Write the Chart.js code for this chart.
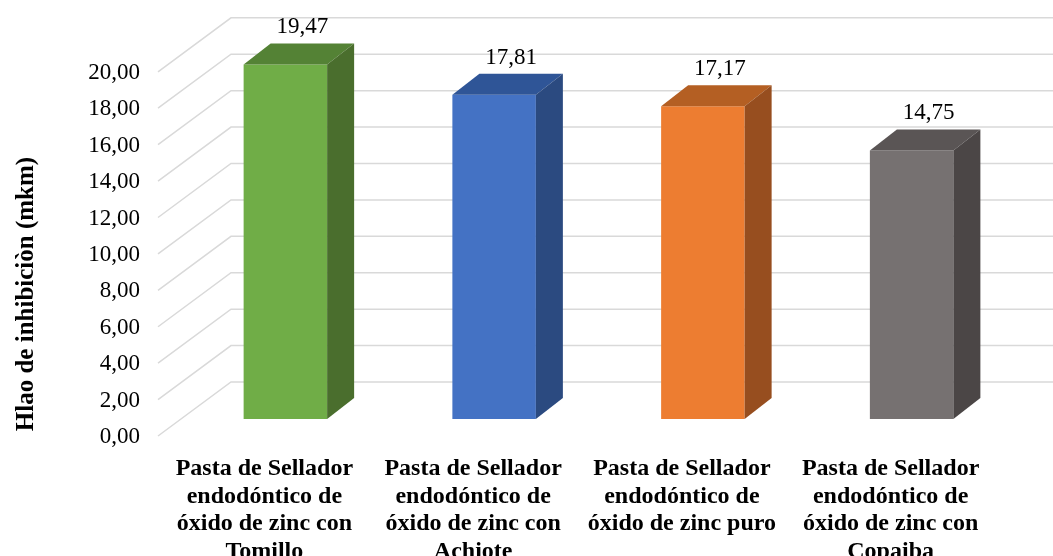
<!DOCTYPE html>
<html>
<head>
<meta charset="utf-8">
<script src="https://cdn.jsdelivr.net/npm/chart.js@4"></script>
<style>
  html, body { margin: 0; padding: 0; background: #fff; }
  #wrap { width: 1053px; height: 556px; }
</style>
</head>
<body>
<div id="wrap"><canvas id="chart"></canvas></div>
<script>
// data -------------------------------------------------------------
const labels = [
  ['Pasta de Sellador', 'endodóntico de', 'óxido de zinc con', 'Tomillo'],
  ['Pasta de Sellador', 'endodóntico de', 'óxido de zinc con', 'Achiote'],
  ['Pasta de Sellador', 'endodóntico de', 'óxido de zinc puro'],
  ['Pasta de Sellador', 'endodóntico de', 'óxido de zinc con', 'Copaiba']
];
const values = [19.47, 17.81, 17.17, 14.75];
const yTitle = 'Hlao de inhibiciòn (mkm)';

// colours: front, top, side
const frontColors = ['#70ad47', '#4472c4', '#ed7d31', '#767171'];
const topColors = ['#548235', '#2f5597', '#b45f23', '#5a5555'];
const sideColors = ['#4a6e2d', '#2b4a80', '#974e1f', '#4b4646'];

// 3d offsets (pixels) relative to bar front plane
const depth = [27, -21];
const wall = [50, -37];
const floorFront = [-23, 17];

const serif = '"Liberation Serif", "Times New Roman", serif';

const fmt = v => v.toFixed(2).replace('.', ',');

const bar3d = {
  id: 'bar3d',
  beforeDatasetsDraw(chart) {
    const { ctx, chartArea } = chart;
    const y = chart.scales.y;
    ctx.save();
    ctx.strokeStyle = '#d9d9d9';
    ctx.lineWidth = 1.5;
    y.ticks.forEach(t => {
      const py = y.getPixelForValue(t.value);
      ctx.beginPath();
      ctx.moveTo(chartArea.left + floorFront[0], py + floorFront[1]);
      ctx.lineTo(chartArea.left + wall[0], py + wall[1]);
      ctx.lineTo(chart.width, py + wall[1]);
      ctx.stroke();
    });
    ctx.restore();
  },
  afterDatasetsDraw(chart) {
    const { ctx } = chart;
    const meta = chart.getDatasetMeta(0);
    ctx.save();
    meta.data.forEach((bar, i) => {
      const { x, y, base, width } = bar.getProps(['x', 'y', 'base', 'width'], true);
      const l = x - width / 2, r = x + width / 2;
      // top face
      ctx.fillStyle = topColors[i];
      ctx.beginPath();
      ctx.moveTo(l, y);
      ctx.lineTo(l + depth[0], y + depth[1]);
      ctx.lineTo(r + depth[0], y + depth[1]);
      ctx.lineTo(r, y);
      ctx.closePath();
      ctx.fill();
      // side face
      ctx.fillStyle = sideColors[i];
      ctx.beginPath();
      ctx.moveTo(r, y);
      ctx.lineTo(r + depth[0], y + depth[1]);
      ctx.lineTo(r + depth[0], base + depth[1]);
      ctx.lineTo(r, base);
      ctx.closePath();
      ctx.fill();
      // value label
      ctx.fillStyle = '#000';
      ctx.font = '23px ' + serif;
      ctx.textAlign = 'center';
      ctx.textBaseline = 'middle';
      ctx.fillText(fmt(values[i]), x + 17, y - 37);
    });
    // y axis title
    ctx.translate(27, 294);
    ctx.rotate(-Math.PI / 2);
    ctx.font = 'bold 25px ' + serif;
    ctx.textAlign = 'center';
    ctx.textBaseline = 'middle';
    ctx.fillStyle = '#000';
    ctx.fillText(yTitle, 0, 0);
    ctx.restore();
  }
};

const ctx = document.getElementById('chart').getContext('2d');
const config = {
  type: 'bar',
  data: {
    labels: labels,
    datasets: [{
      data: values,
      backgroundColor: frontColors,
      borderWidth: 0,
      barPercentage: 0.4,
      categoryPercentage: 1
    }]
  },
  options: {
    responsive: true,
    maintainAspectRatio: false,
    animation: false,
    layout: { padding: { top: 53, right: 37, left: 0, bottom: 0 } },
    plugins: { legend: { display: false }, tooltip: { enabled: false } },
    scales: {
      x: {
        grid: { display: false, drawTicks: false },
        border: { display: false },
        ticks: {
          color: '#000',
          font: { family: serif, size: 24, weight: 'bold', lineHeight: 1.15 },
          padding: 36,
          labelOffset: -21,
          maxRotation: 0,
          autoSkip: false
        },
        afterFit(scale) { scale.height = 137; }
      },
      y: {
        min: 0,
        max: 20,
        grid: { display: false, drawTicks: false },
        border: { display: false },
        ticks: {
          stepSize: 2,
          color: '#000',
          font: { family: serif, size: 23 },
          padding: 41,
          labelOffset: 18,
          callback: v => fmt(v)
        },
        afterFit(scale) { scale.width = 181; }
      }
    }
  },
  plugins: [bar3d]
};
new Chart(ctx, config);
</script>
</body>
</html>
